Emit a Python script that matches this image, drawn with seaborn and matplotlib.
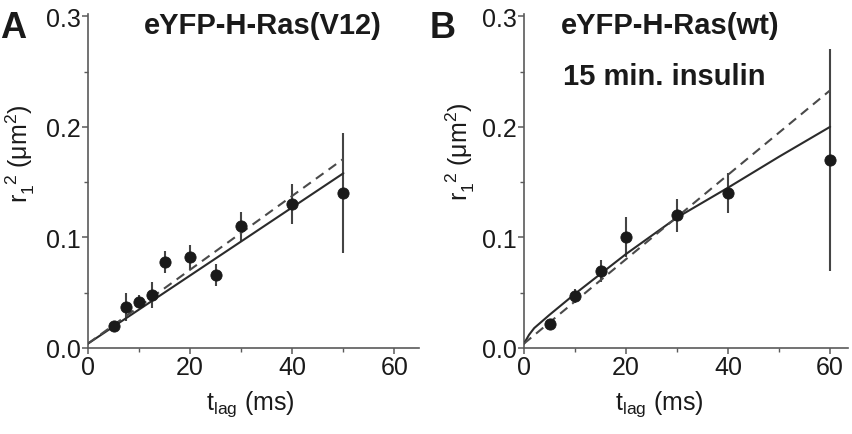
import numpy as np
import pandas as pd
import matplotlib
matplotlib.use("Agg")
import matplotlib.pyplot as plt
from matplotlib.ticker import MultipleLocator
import seaborn as sns

sns.set_theme(style="ticks")
plt.rcParams['font.family'] = ['Liberation Sans', 'DejaVu Sans']
plt.rcParams['mathtext.fontset'] = 'custom'
plt.rcParams['mathtext.rm'] = 'Liberation Sans'
plt.rcParams['mathtext.it'] = 'Liberation Sans'

# Panel A data
a_t = [5, 7.5, 10, 12.5, 15, 20, 25, 30, 40, 50]
a_r = [0.020, 0.037, 0.042, 0.048, 0.078, 0.082, 0.066, 0.110, 0.130, 0.140]
a_err = [0.004, 0.013, 0.006, 0.012, 0.010, 0.011, 0.010, 0.013, 0.018, 0.054]
a_fit_t = [0, 50]
a_fit_solid = [0.004, 0.158]
a_fit_dash = [0.004, 0.171]

# Panel B data
b_t = [5, 10, 15, 20, 30, 40, 60]
b_r = [0.022, 0.047, 0.070, 0.100, 0.120, 0.140, 0.170]
b_err = [0.003, 0.006, 0.010, 0.018, 0.015, 0.018, 0.100]
b_fit_t = [0, 1, 2, 5, 10, 15, 20, 30, 40, 50, 60]
b_fit_solid = [0.004, 0.012, 0.018, 0.030, 0.049, 0.067, 0.085, 0.118, 0.145, 0.173, 0.200]
b_fit_dash_t = [0, 60]
b_fit_dash = [0.004, 0.233]

fig = plt.figure(figsize=(8.53, 4.35), dpi=100)
axA = fig.add_axes([88/853, 1-349/435, (419-88)/853, (349-15)/435])
axB = fig.add_axes([524/853, 1-349/435, (848-524)/853, (349-15)/435])

line_c = '#2b2b2b'
spine_c = '#5a5a5a'
txt_c = '#1a1a1a'

def draw(ax, t, r, err, ft, fs, fdt, fd, xmax, xl_pos, yl_pos):
    ax.errorbar(t, r, yerr=err, fmt='none', ecolor='#444444', elinewidth=1.5, capsize=0, zorder=2)
    sns.lineplot(x=ft, y=fs, ax=ax, color=line_c, lw=1.5, zorder=3)
    sns.lineplot(x=fdt, y=fd, ax=ax, color='#4a4a4a', lw=1.5, linestyle=(0, (4.5, 3)), zorder=3)
    sns.scatterplot(x=t, y=r, ax=ax, color='#1a1a1a', s=65, edgecolor='#1a1a1a', zorder=4)
    ax.set_xlim(0, xmax)
    ax.set_ylim(0, 0.302)
    ax.xaxis.set_major_locator(MultipleLocator(20))
    ax.xaxis.set_minor_locator(MultipleLocator(10))
    ax.yaxis.set_major_locator(MultipleLocator(0.1))
    ax.yaxis.set_minor_locator(MultipleLocator(0.05))
    ax.yaxis.set_major_formatter(matplotlib.ticker.FormatStrFormatter('%.1f'))
    for s in ['top', 'right']:
        ax.spines[s].set_visible(False)
    for s in ['left', 'bottom']:
        ax.spines[s].set_color(spine_c)
        ax.spines[s].set_linewidth(1.2)
    ax.tick_params(which='major', direction='out', length=4, width=1.1, color=spine_c,
                   labelsize=18, labelcolor=txt_c, pad=1)
    ax.tick_params(which='minor', direction='out', length=3, width=1.0, color=spine_c)
    ax.set_xlabel('')
    ax.set_ylabel('')
    ax.text(xl_pos[0], xl_pos[1], r'$\mathregular{t_{lag}}$ (ms)', fontsize=18, color=txt_c,
            ha='center', va='center', transform=ax.transAxes)
    ax.text(yl_pos[0], yl_pos[1], r'$\mathregular{r_1^{\ \ 2}}$ ($\mathregular{\mu m^2}$)', fontsize=18,
            color=txt_c, ha='center', va='center', rotation=90, transform=ax.transAxes)

draw(axA, a_t, a_r, a_err, a_fit_t, a_fit_solid, a_fit_t, a_fit_dash, 64.8,
     (0.49, -0.165), (-0.205, 0.585))
draw(axB, b_t, b_r, b_err, b_fit_t, b_fit_solid, b_fit_dash_t, b_fit_dash, 63.5,
     (0.417, -0.165), (-0.198, 0.59))

fig.text(0/853, 1-29/435, 'A', fontsize=26, fontweight='bold', va='center', ha='left', color=txt_c)
fig.text(430/853, 1-29/435, 'B', fontsize=26, fontweight='bold', va='center', ha='left', color=txt_c)
fig.text(263/853, 1-26/435, 'eYFP-H-Ras(V12)', fontsize=21, fontweight='bold', va='center', ha='center', color=txt_c)
fig.text(670/853, 1-26/435, 'eYFP-H-Ras(wt)', fontsize=21, fontweight='bold', va='center', ha='center', color=txt_c)
fig.text(664/853, 1-77/435, '15 min. insulin', fontsize=21, fontweight='bold', va='center', ha='center', color=txt_c)

fig.savefig('out.png', dpi=100)
